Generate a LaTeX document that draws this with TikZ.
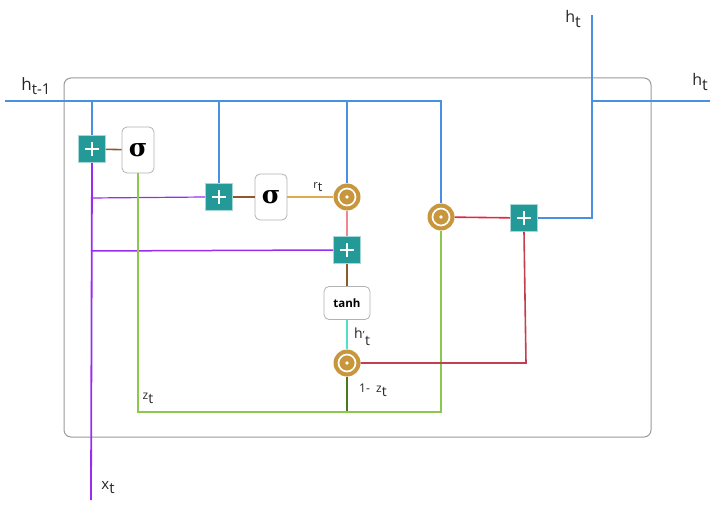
\documentclass[tikz,border=0pt]{standalone}
\usepackage{fontspec}
\setmainfont{Open Sans}
\newfontfamily\sigfont{DejaVu Serif}
\definecolor{hblue}{HTML}{4A90E2}
\definecolor{teal2}{HTML}{239A98}
\definecolor{gold}{HTML}{C8963C}
\definecolor{brownl}{HTML}{8B5A2B}
\definecolor{orangel}{HTML}{E0A850}
\definecolor{pinkl}{HTML}{F08890}
\definecolor{cyanl}{HTML}{50E0C8}
\definecolor{greenl}{HTML}{8CC850}
\definecolor{greend}{HTML}{4A7A1A}
\definecolor{purplel}{HTML}{9A2CF0}
\definecolor{redl}{HTML}{E02840}
\definecolor{redd}{HTML}{C04050}
\definecolor{boxgray}{HTML}{9A9A9A}
\tikzset{
  plusbox/.style={rectangle, fill=teal2, draw=teal2!40!white, line width=0.6pt, minimum size=27pt, inner sep=0pt,
    path picture={\draw[white, line width=1.3pt] ([xshift=-7pt]path picture bounding box.center) -- ([xshift=7pt]path picture bounding box.center);
                  \draw[white, line width=1.3pt] ([yshift=-7pt]path picture bounding box.center) -- ([yshift=7pt]path picture bounding box.center);}},
  odot/.style={circle, fill=gold, minimum size=27pt, inner sep=0pt,
    path picture={\draw[white, line width=1.7pt] (path picture bounding box.center) circle (8.5pt);
                  \fill[white] (path picture bounding box.center) circle (1.9pt);}},
  gatebox/.style={rectangle, rounded corners=5pt, draw=gray!60, fill=white, line width=0.8pt, inner sep=0pt},
  lbl/.style={inner sep=0pt, text=black!85},
  wire/.style={line width=1.8pt},
}
\newcommand{\sub}[2]{#1\raisebox{-0.5ex}{#2}}
\newcommand{\sigsym}{\sigfont\bfseries\fontsize{25}{25}\selectfont σ}
\begin{document}
\begin{tikzpicture}[x=1pt, y=-1pt]
\useasboundingbox (0,0) rectangle (715,513);
% outer box
\draw[boxgray, line width=1pt, rounded corners=7pt] (64,78) rectangle (651,437);

% nodes
\node[plusbox] (p1) at (92,149) {};
\node[gatebox, minimum width=32pt, minimum height=46pt] (s1) at (138,150) {\sigsym};
\node[plusbox] (p2) at (219,197) {};
\node[gatebox, minimum width=32pt, minimum height=46pt] (s2) at (271,197) {\sigsym};
\node[odot] (o1) at (347,197) {};
\node[plusbox] (p3) at (347,250) {};
\node[gatebox, minimum width=46pt, minimum height=33pt] (th) at (347,303) {\bfseries\fontsize{11.5}{12}\selectfont tanh};
\node[odot] (o3) at (347,363) {};
\node[odot] (o2) at (441,217) {};
\node[plusbox] (p4) at (524,218) {};

% coordinates
\coordinate (hin) at (5,101);
\coordinate (hc) at (441,101);
\coordinate (hb1) at (92,101);
\coordinate (hb2) at (219,101);
\coordinate (hb3) at (347,101);
\coordinate (xin) at (91,500);
\coordinate (xb1) at (91,198);
\coordinate (xb2) at (91,251);
\coordinate (zc1) at (138,412);
\coordinate (zc2) at (441,412);
\coordinate (zd) at (347,412);
\coordinate (rc) at (526,363);
\coordinate (oc) at (592,218);
\coordinate (otop) at (592,15);
\coordinate (ob) at (592,101);
\coordinate (oright) at (710,101);

% blue h lines
\draw[hblue, wire] (hin) -- (hc) -- (o2.north);
\draw[hblue, wire] (hb1) -- (p1.north);
\draw[hblue, wire] (hb2) -- (p2.north);
\draw[hblue, line width=1.2pt] (hb3) -- (o1.north);
% purple x lines
\draw[purplel, wire] (xin) -- (p1.south);
\draw[purplel, line width=1.2pt] (xb1) -- (p2.west);
\draw[purplel, line width=1.5pt] (xb2) -- (p3.west);
% gate internals
\draw[brownl, line width=1.6pt] (p1) -- (s1);
\draw[brownl, line width=1.6pt] (p2) -- (s2);
\draw[orangel, line width=1.6pt] (s2) -- (o1);
\draw[pinkl, line width=1.2pt] (o1) -- (p3);
\draw[brownl, line width=1.2pt] (p3) -- (th);
\draw[cyanl, line width=1.6pt] (th) -- (o3);
\draw[greend, line width=1.6pt] (o3) -- (zd);
\draw[greenl, line width=1.6pt] (s1.south) -- (zc1) -- (zc2) -- (o2.south);
% output
\draw[redl, line width=1.6pt] (o2) -- (p4);
\draw[redd, line width=1.6pt] (o3) -- (rc) -- (p4.south);
\draw[hblue, wire] (p4.east) -- (oc) -- (otop);
\draw[hblue, wire] (ob) -- (oright);

% labels
\node[lbl, font=\fontsize{17}{17}\selectfont] (lh1) at (36,86) {\sub{h}{\fontsize{15}{15}\selectfont t-1}};
\node[lbl, font=\fontsize{16}{16}\selectfont] (lht) at (573,19) {\sub{h}{t}};
\node[lbl, font=\fontsize{16}{16}\selectfont] (lhr) at (700,82) {\sub{h}{t}};
\node[lbl, font=\fontsize{11}{11}\selectfont] (lrt) at (318,187) {r\raisebox{-0.6ex}{\fontsize{13}{13}\selectfont t}};
\node[lbl, font=\fontsize{14}{14}\selectfont] (lhp) at (362,337) {h\raisebox{0.9ex}{\fontsize{10}{10}\selectfont ,}\raisebox{-0.9ex}{t}};
\node[lbl, font=\fontsize{12}{12}\selectfont] (l1z) at (373,390) {1-\ \ z\raisebox{-0.6ex}{\fontsize{14}{14}\selectfont t}};
\node[lbl, font=\fontsize{12}{12}\selectfont] (lzt) at (148,398) {z\raisebox{-0.6ex}{\fontsize{14}{14}\selectfont t}};
\node[lbl, font=\fontsize{15}{15}\selectfont] (lxt) at (108,488) {\sub{x}{t}};
\end{tikzpicture}
\end{document}
